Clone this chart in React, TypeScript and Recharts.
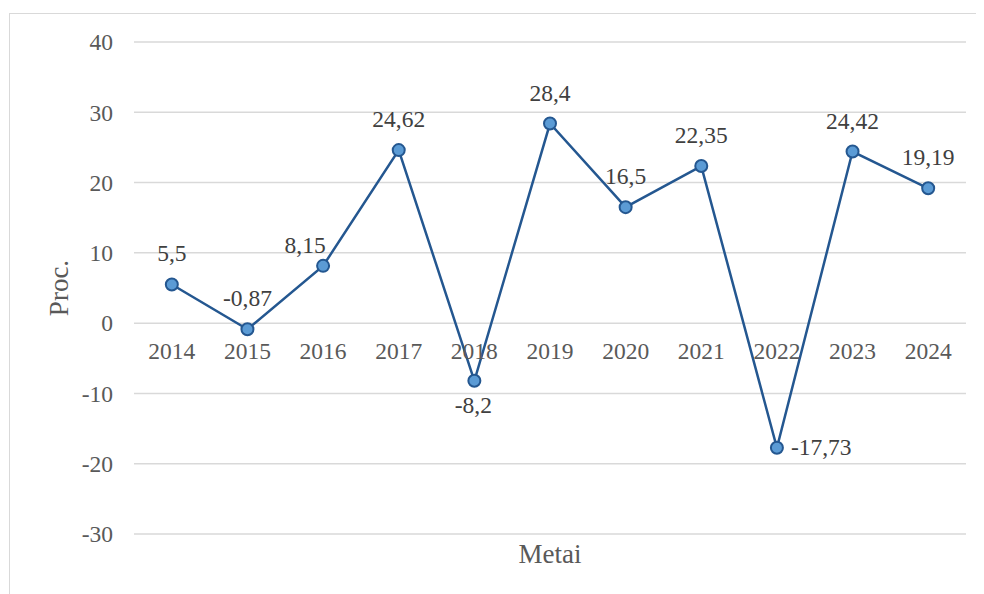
import React from 'react';
import { LineChart, Line, XAxis, YAxis, CartesianGrid, LabelList } from 'recharts';

const years = ['2014', '2015', '2016', '2017', '2018', '2019', '2020', '2021', '2022', '2023', '2024'];
const changes = [5.5, -0.87, 8.15, 24.62, -8.2, 28.4, 16.5, 22.35, -17.73, 24.42, 19.19];
const yTicks = [-30, -20, -10, 0, 10, 20, 30, 40];
const xTitle = 'Metai';
const yTitle = 'Proc.';

const data = years.map((y, i) => ({ year: y, value: changes[i] }));

const W = 976;
const H = 586;
const M = { top: 34, right: 18, bottom: 30, left: 20 };
const X_AXIS_H = 30;
const Y_AXIS_W = 106;
const Y_MIN = yTicks[0];
const Y_MAX = yTicks[yTicks.length - 1];
const PLOT_H = H - M.top - M.bottom - X_AXIS_H;
const ZERO_Y = M.top + (PLOT_H * (Y_MAX - 0)) / (Y_MAX - Y_MIN);

const FONT = '"Liberation Serif", "Times New Roman", Tinos, serif';
const FS = 23.5;
const TITLE_FS = 27;
const LINE = '#245790';
const FILL = '#5B9BD5';
const GRID = '#d9d9d9';
const TICK_COLOR = '#595959';
const LABEL_COLOR = '#404040';

const textStyle = (color: string, size: number = FS) => ({ fontFamily: FONT, fontSize: size, fill: color });

// label placement styles per category
const placement: Record<string, { dx: number; dy: number; anchor: 'middle' | 'start' | 'end' }> = {
  '2016': { dx: -18, dy: -12.5, anchor: 'middle' },
  '2018': { dx: -1, dy: 32, anchor: 'middle' },
  '2022': { dx: 14, dy: 7, anchor: 'start' },
};
const defaultPlacement = { dx: 0, dy: -23, anchor: 'middle' as const };

const fmt = (v: number) => String(v).replace('.', ',');

const XTick = (props: any) => {
  const { x, payload } = props;
  return (
    <text x={x} y={ZERO_Y + 36.3} textAnchor="middle" style={textStyle(TICK_COLOR)}>
      {payload.value}
    </text>
  );
};

const YTick = (props: any) => {
  const { x, y, payload } = props;
  return (
    <text x={x} y={y} dy="0.355em" textAnchor="end" style={textStyle(TICK_COLOR)}>
      {payload.value}
    </text>
  );
};

const DataLabel = (props: any) => {
  const { x, y, value, index } = props;
  const p = placement[years[index]] || defaultPlacement;
  return (
    <text x={x + p.dx} y={y + p.dy} textAnchor={p.anchor} style={textStyle(LABEL_COLOR)}>
      {fmt(value)}
    </text>
  );
};

export default function App() {
  return (
    <div style={{ position: 'relative', width: W, height: H, overflow: 'hidden', background: '#fff' }}>
      <div
        style={{
          position: 'absolute',
          left: 1,
          top: 5,
          width: 1000,
          height: 1000,
          border: `1px solid ${GRID}`,
          boxSizing: 'border-box',
        }}
      />
      <div style={{ position: 'absolute', left: 0, top: 0 }}>
        <LineChart width={W} height={H} data={data} margin={M}>
          <CartesianGrid vertical={false} stroke={GRID} strokeWidth={1.5} />
          <XAxis
            dataKey="year"
            scale="band"
            height={X_AXIS_H}
            axisLine={false}
            tickLine={false}
            interval={0}
            tick={<XTick />}
            label={(lp: any) => {
              const vb = lp.viewBox;
              return (
                <text
                  x={vb.x + vb.width / 2}
                  y={vb.y + 28.7}
                  textAnchor="middle"
                  style={textStyle(TICK_COLOR, TITLE_FS)}
                >
                  {xTitle}
                </text>
              );
            }}
          />
          <YAxis
            width={Y_AXIS_W}
            domain={[Y_MIN, Y_MAX]}
            ticks={yTicks}
            axisLine={false}
            tickLine={false}
            tickSize={0}
            tickMargin={21}
            tick={<YTick />}
            label={(lp: any) => {
              const vb = lp.viewBox;
              const cx = vb.x + 40;
              const cy = vb.y + vb.height / 2;
              return (
                <text
                  x={cx}
                  y={cy}
                  transform={`rotate(-90 ${cx} ${cy})`}
                  textAnchor="middle"
                  style={textStyle(TICK_COLOR, TITLE_FS)}
                >
                  {yTitle}
                </text>
              );
            }}
          />
          <Line
            type="linear"
            dataKey="value"
            stroke={LINE}
            strokeWidth={2.5}
            dot={{ r: 6, fill: FILL, stroke: LINE, strokeWidth: 2 }}
            activeDot={false}
            isAnimationActive={false}
          >
            <LabelList dataKey="value" content={<DataLabel />} />
          </Line>
        </LineChart>
      </div>
    </div>
  );
}
